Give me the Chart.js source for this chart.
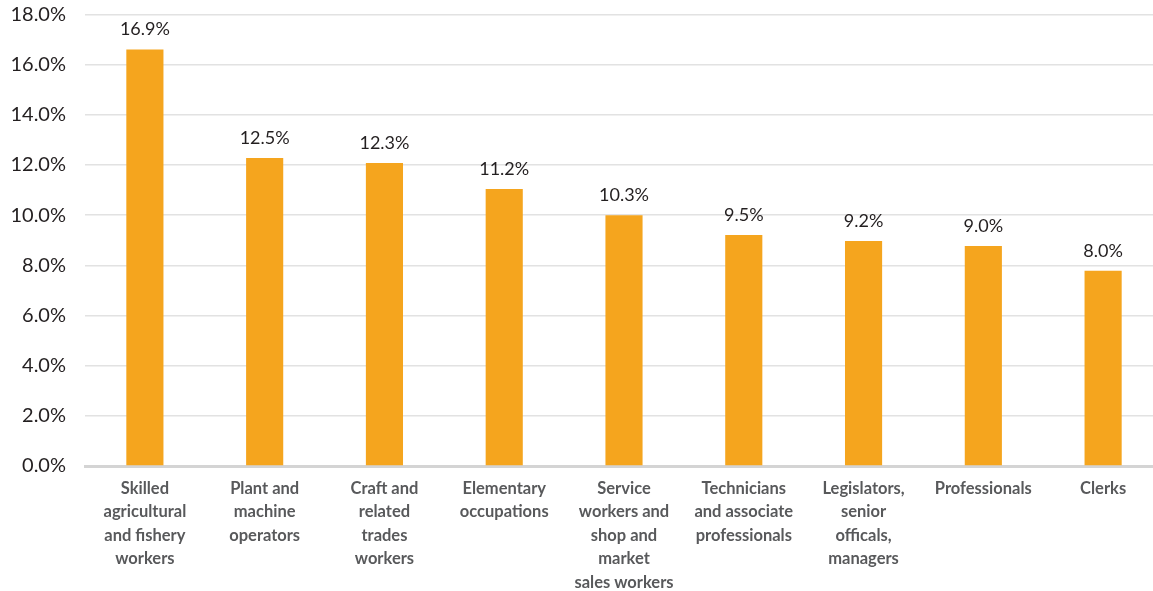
<!DOCTYPE html>
<html>
<head>
<meta charset="utf-8">
<script src="https://cdn.jsdelivr.net/npm/chart.js@4.4.1/dist/chart.umd.min.js"></script>
<style>
  html, body { margin: 0; padding: 0; background: #ffffff; overflow: hidden; }
  #wrap { width: 1165px; height: 591px; }
</style>
</head>
<body>
<div id="wrap"><canvas id="c" width="1165" height="591"></canvas></div>
<script>
// Categories (multi-line as printed on the x axis)
const categories = [
  ["Skilled", "agricultural", "and fishery", "workers"],
  ["Plant and", "machine", "operators"],
  ["Craft and", "related", "trades", "workers"],
  ["Elementary", "occupations"],
  ["Service", "workers and", "shop and", "market", "sales workers"],
  ["Technicians", "and associate", "professionals"],
  ["Legislators,", "senior", "officals,", "managers"],
  ["Professionals"],
  ["Clerks"]
];
// Bar heights as drawn in the picture (%)
const barHeights = [16.6, 12.28, 12.08, 11.04, 10.0, 9.21, 8.97, 8.77, 7.78];
// Values printed above the bars (%)
const printedValues = [16.9, 12.5, 12.3, 11.2, 10.3, 9.5, 9.2, 9.0, 8.0];
// Y axis tick values (%)
const yTicks = [0, 2, 4, 6, 8, 10, 12, 14, 16, 18];

const barColor = '#F5A51E';

const valueLabels = {
  id: 'valueLabels',
  afterDatasetsDraw(chart) {
    const ctx = chart.ctx;
    const meta = chart.getDatasetMeta(0);
    ctx.save();
    ctx.font = '18px Lato, "Open Sans", sans-serif';
    ctx.fillStyle = '#231f20';
    ctx.textAlign = 'center';
    ctx.textBaseline = 'middle';
    meta.data.forEach((bar, i) => {
      ctx.fillText(printedValues[i].toFixed(1) + '%', bar.x, bar.y - 20);
    });
    ctx.restore();
  }
};

new Chart(document.getElementById('c'), {
  type: 'bar',
  data: {
    labels: categories,
    datasets: [{
      data: barHeights,
      backgroundColor: barColor,
      borderWidth: 0,
      barPercentage: 0.31,
      categoryPercentage: 1.0
    }]
  },
  options: {
    responsive: false,
    devicePixelRatio: 1,
    animation: false,
    layout: { padding: { top: 14.5, right: 2, left: 0, bottom: 0 } },
    plugins: {
      legend: { display: false },
      tooltip: { enabled: false }
    },
    scales: {
      y: {
        min: yTicks[0],
        max: yTicks[yTicks.length - 1],
        afterBuildTicks: (s) => { s.ticks = yTicks.map(v => ({ value: v })); },
        afterFit: (s) => { s.width = 85; s.paddingTop = 0; s.paddingBottom = 0; },
        ticks: {
          callback: (v) => Number(v).toFixed(1) + '%',
          font: { family: 'Lato, "Open Sans", sans-serif', size: 20 },
          color: '#231f20',
          padding: 19
        },
        grid: { color: '#e2e2e2', lineWidth: 1.5, drawTicks: false },
        border: { display: false }
      },
      x: {
        afterFit: (s) => { s.height = 125; s.paddingLeft = 0; s.paddingRight = 0; },
        grid: { display: false, drawTicks: false },
        border: { display: true, color: '#d4d4d4', width: 3 },
        ticks: {
          font: { family: 'Lato, "Open Sans", sans-serif', size: 16.5, weight: 'bold', lineHeight: 1.42 },
          color: '#58595b',
          padding: 11,
          maxRotation: 0,
          autoSkip: false
        }
      }
    }
  },
  plugins: [valueLabels]
});
</script>
</body>
</html>
